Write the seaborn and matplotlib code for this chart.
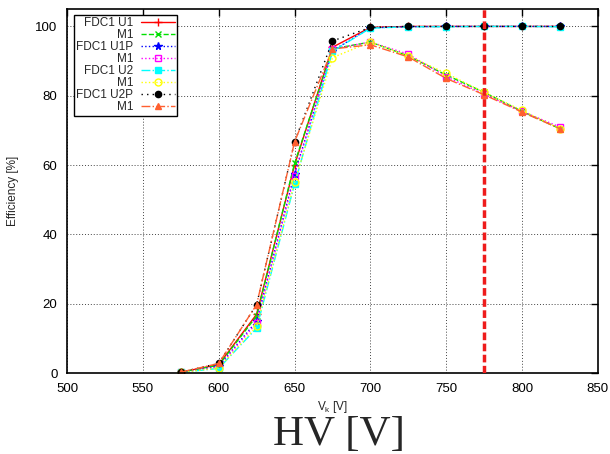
import pandas as pd
import matplotlib
matplotlib.use('Agg')
import matplotlib.pyplot as plt
import seaborn as sns

# data
hv = [575, 600, 625, 650, 675, 700, 725, 750, 775, 800, 825]
fdc1_u1 = [0.3, 2.5, 17.0, 60.0, 94.0, 99.7, 100.0, 100.0, 100.0, 100.0, 100.0]
m1_u1 = [0.3, 2.3, 16.5, 60.5, 93.5, 95.5, 91.5, 86.0, 81.0, 75.5, 70.5]
fdc1_u1p = [0.2, 2.0, 15.0, 57.5, 93.0, 99.6, 99.9, 100.0, 100.0, 100.0, 100.0]
m1_u1p = [0.2, 1.8, 14.5, 57.0, 93.5, 95.5, 92.0, 85.5, 80.5, 75.5, 71.0]
fdc1_u2 = [0.2, 1.4, 13.0, 54.5, 92.8, 99.5, 99.9, 99.9, 100.0, 100.0, 99.9]
m1_u2 = [0.2, 1.5, 13.5, 55.0, 91.0, 95.5, 91.5, 86.5, 81.0, 75.8, 70.5]
fdc1_u2p = [0.3, 2.8, 19.8, 66.7, 95.8, 99.7, 100.0, 100.0, 100.0, 100.0, 100.0]
m1_u2p = [0.3, 2.8, 19.8, 66.7, 93.5, 94.7, 91.2, 85.0, 80.3, 75.3, 70.5]
labels = ['FDC1 U1', 'M1', 'FDC1 U1P', 'M1', 'FDC1 U2', 'M1', 'FDC1 U2P', 'M1']
series = [fdc1_u1, m1_u1, fdc1_u1p, m1_u1p, fdc1_u2, m1_u2, fdc1_u2p, m1_u2p]
hv_cut = 775

# gnuplot-like styles
styles = [
    dict(color='#ff0000', ls='-', marker='+', mfc='#ff0000', ms=6),
    dict(color='#00e000', ls='--', marker='x', mfc='#00e000', ms=5),
    dict(color='#0000ff', ls=':', marker='*', mfc='#0000ff', ms=5.5),
    dict(color='#ff00ff', ls=':', marker='s', mfc='none', ms=5),
    dict(color='#00ffff', ls='-.', marker='s', mfc='#00ffff', ms=5),
    dict(color='#ffff00', ls=':', marker='o', mfc='none', ms=5),
    dict(color='#000000', ls=(0, (1, 3)), marker='o', mfc='#000000', ms=4.5),
    dict(color='#ff6030', ls='-.', marker='^', mfc='#ff6030', ms=5),
]

sns.set_style('white')
plt.rcParams['font.family'] = ['Liberation Sans', 'DejaVu Sans']
plt.rcParams['mathtext.default'] = 'regular'

fig = plt.figure(figsize=(6.1, 4.54), dpi=100)
ax = fig.add_axes([0.110, 0.178, 0.870, 0.802])

for i, (lab, vals) in enumerate(zip(labels, series)):
    df = pd.DataFrame({'hv': hv, 'eff': vals})
    st = styles[i]
    sns.lineplot(data=df, x='hv', y='eff', ax=ax, label=lab, color=st['color'],
                 linestyle=st['ls'], marker=st['marker'], markersize=st['ms'],
                 markerfacecolor=st['mfc'], markeredgecolor=st['color'],
                 markeredgewidth=1.0, linewidth=1.0)

ax.axvline(hv_cut, color='#ee1c1c', ls='--', lw=2.5, dashes=(2.2, 1.0), zorder=5)

ax.set_xlim(500, 850)
ax.set_ylim(0, 105)
ax.set_xticks(range(500, 851, 50))
ax.set_yticks(range(0, 101, 20))
ax.grid(True, ls=(0, (1, 2)), color='#444444', lw=0.7)
ax.tick_params(direction='in', top=True, right=True, length=5, width=1,
               labelsize=9.5, pad=7, colors='black')
for sp in ax.spines.values():
    sp.set_color('black')
    sp.set_linewidth(1.2)

ax.set_xlabel(r'V$_k$ [V]', fontsize=8.5)
ax.set_ylabel('Efficiency [%]', fontsize=8.5)
ax.xaxis.set_label_coords(0.5, -0.072)
ax.yaxis.set_label_coords(-0.09, 0.5)

# markerfirst=False puts the sample on the right and right-aligns the labels
leg = ax.legend(loc='upper left', bbox_to_anchor=(0.013, 0.984), borderaxespad=0,
                fontsize=8.5, markerfirst=False, labelspacing=0.0, borderpad=0.2,
                handlelength=2.9, handletextpad=0.6, fancybox=False, framealpha=1)
leg.get_frame().set_edgecolor('black')
leg.get_frame().set_linewidth(1.0)

fig.text(0.556, 0.02, 'HV [V]', ha='center', va='baseline',
         fontsize=31, family=['Liberation Serif', 'DejaVu Serif'])

fig.savefig('out.png', dpi=100)
